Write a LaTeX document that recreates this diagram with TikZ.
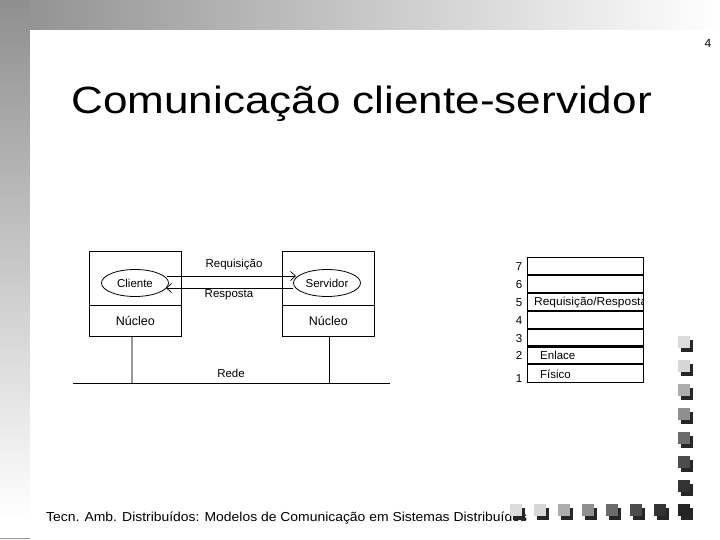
\documentclass[tikz,border=0pt]{standalone}
\usepackage{fontspec}
\setmainfont{Liberation Sans}
\usetikzlibrary{arrows.meta,shapes.geometric,positioning}
\begin{document}
\begin{tikzpicture}[x=1pt,y=-1pt,
  box/.style={draw,line width=0.8pt,minimum width=92pt,anchor=north west,inner sep=0pt,font=\fontsize{12.5}{14}\selectfont},
  proc/.style={draw,ellipse,line width=0.8pt,minimum width=67pt,minimum height=27pt,inner sep=0pt,font=\fontsize{11.5}{13}\selectfont},
  lbl/.style={inner sep=0pt,font=\fontsize{11.5}{13}\selectfont},
  msg/.style={line width=0.7pt,-{Straight Barb[length=5pt,width=9pt]}},
  row/.style={draw,line width=0.8pt,minimum width=116pt,minimum height=18pt,anchor=north west,inner sep=0pt},
  num/.style={inner sep=0pt,font=\fontsize{11.5}{13}\selectfont},
  sq/.style={minimum size=12pt,inner sep=0pt,anchor=north west}
]
\useasboundingbox (0,0) rectangle (720,540);
\fill[white] (0,0) rectangle (720,540);
% background bands
\shade[left color=black!44,right color=white] (0,0) rectangle (720,30);
\shade[top color=black!44,bottom color=white] (0,0) rectangle (30,520);
\fill[white] (30,30) rectangle (720,540);
\draw[black!40,line width=1pt] (0,538) -- (30,538);
% page number
\node[lbl,font=\fontsize{12}{14}\selectfont] (pg) at (708,43) {4};
% title
\node[anchor=base west,inner sep=0pt,font=\fontsize{38}{44}\selectfont] (title) at (71,114) {\scalebox{1.16}[1]{Comunicação cliente-servidor}};
% client / server
\node[box,minimum height=54pt] (cup) at (89,251) {};
\node[box,minimum height=31pt] (cnuc) at (89,305) {Núcleo};
\node[box,minimum height=54pt] (sup) at (282,251) {};
\node[box,minimum height=31pt] (snuc) at (282,305) {Núcleo};
\node[proc] (cli) at (135,283) {Cliente};
\node[proc] (srv) at (327,283) {Servidor};
\coordinate (ca) at (167,276);
\coordinate (sa) at (296,276);
\coordinate (cb) at (166,288);
\coordinate (sb) at (293,288);
\draw[msg] (ca) -- (sa);
\draw[msg] (sb) -- (cb);
\node[lbl] (req) at (234,265) {Requisição};
\node[lbl] (resp) at (229,295) {Resposta};
\coordinate (rl) at (73,383);
\coordinate (rr) at (390,383);
\coordinate (cv) at (132,383);
\coordinate (sv) at (329,383);
\draw[line width=0.8pt] (rl) -- (rr);
\draw[black!40,line width=1.2pt] (cnuc.south -| cv) -- (cv);
\draw[line width=0.8pt] (snuc.south -| sv) -- (sv);
\node[lbl] (rede) at (231,373) {Rede};
% OSI stack
\foreach \i/\y in {7/257,6/275,5/293,4/311,3/329,2/346,1/364}{
  \node[row] (r\i) at (527,\y) {};
}
\foreach \i in {6,5,4,3,2}{
  \draw[line width=1.6pt] (r\i.north west) -- (r\i.north east);
}
\draw[line width=1.6pt] (r1.north west) -- (r1.north east);
\begin{scope}
  \clip (r5.north west) rectangle (r5.south east);
  \node[lbl,anchor=west] (t5) at ([xshift=7pt]r5.west) {\scalebox{1.04}[1]{Requisição/Resposta}};
\end{scope}
\node[lbl,anchor=west] (t2) at ([xshift=13pt]r2.west) {Enlace};
\node[lbl,anchor=west] (t1) at ([xshift=13pt,yshift=-0.5pt]r1.west) {Físico};
\foreach \i in {7,6,5,4,3,2}{
  \node[num] (n\i) at ([xshift=-8pt]r\i.west) {\i};
}
\node[num] (n1) at (519,379) {1};
% footer
\node[anchor=base west,inner sep=0pt,font=\fontsize{13}{15}\selectfont] (foot) at (46,521) {\scalebox{1.07}[1]{Tecn. Amb. Distribuídos: Modelos de Comunicação em Sistemas Distribuídos}};
% decorative squares
\foreach \k/\g in {0/14,1/16,2/32,3/44,4/58,5/70,6/80,7/86}{
  \pgfmathsetmacro\xx{510+24*\k}
  \fill[black!85] (\xx+3,504+4) rectangle ++(12,12);
  \fill[black!\g] (\xx,504) rectangle ++(12,12);
  \pgfmathsetmacro\yy{336+24*\k}
  \fill[black!85] (678+3,\yy+4) rectangle ++(12,12);
  \fill[black!\g] (678,\yy) rectangle ++(12,12);
}
\end{tikzpicture}
\end{document}
